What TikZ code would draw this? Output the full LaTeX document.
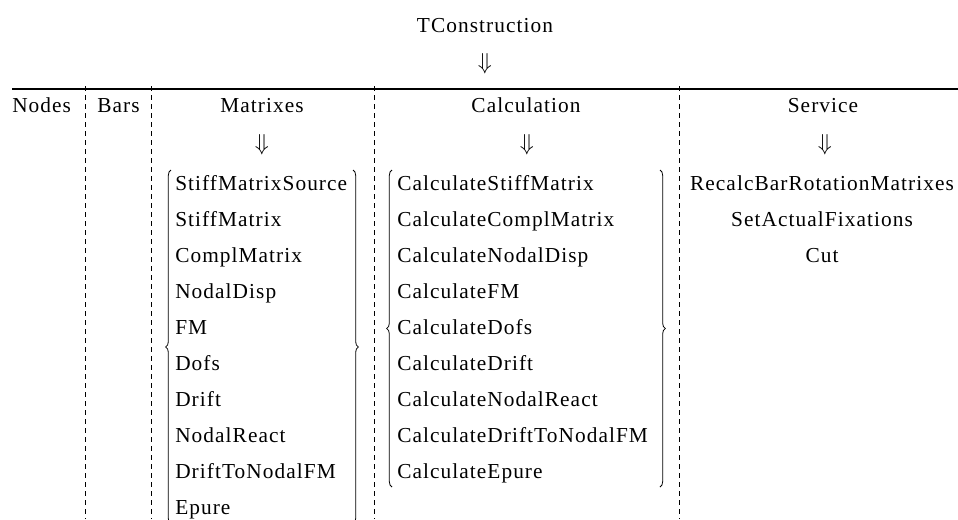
\documentclass[tikz,border=0pt]{standalone}
\usepackage{fontspec}
\setmainfont{Liberation Serif}[LetterSpace=5]
\usetikzlibrary{decorations.pathreplacing}
\tikzset{
  lbl/.style={inner sep=0pt, anchor=base, font=\fontsize{16}{19}\selectfont},
  itm/.style={lbl, anchor=base west},
  sep/.style={dash pattern=on 3.75pt off 3pt, line width=0.6pt},
  brc/.style={decorate, decoration={brace, amplitude=4pt}, line width=0.6pt}
}
\begin{document}
\begin{tikzpicture}[x=0.75pt,y=-0.75pt]
    \useasboundingbox (0,0) rectangle (958,519);
    \node[lbl] (tcon) at (485,32) {TConstruction};
    \node[lbl] (tarr) at (485,69) {$\Downarrow$};
    \draw[line width=1.1pt] (12,89) -- (958,89);
    \draw[sep] (85,86) -- (85,519);
    \draw[sep] (151,86) -- (151,519);
    \draw[sep] (374,86) -- (374,519);
    \draw[sep] (679,86) -- (679,519);
    \node[itm] (nodes) at (12,112) {Nodes};
    \node[itm] (bars) at (97,112) {Bars};
    \node[lbl] (matr) at (262,112) {Matrixes};
    \node[lbl] (calc) at (526,112) {Calculation};
    \node[lbl] (serv) at (823,112) {Service};
    \node[lbl] (marr) at (262,150) {$\Downarrow$};
    \node[lbl] (carr) at (527,150) {$\Downarrow$};
    \node[lbl] (sarr) at (825,150) {$\Downarrow$};
    \node[itm] (m1) at (175,190) {StiffMatrixSource};
    \node[itm] (m2) at (175,226) {StiffMatrix};
    \node[itm] (m3) at (175,262) {ComplMatrix};
    \node[itm] (m4) at (175,298) {NodalDisp};
    \node[itm] (m5) at (175,334) {FM};
    \node[itm] (m6) at (175,370) {Dofs};
    \node[itm] (m7) at (175,406) {Drift};
    \node[itm] (m8) at (175,442) {NodalReact};
    \node[itm] (m9) at (175,478) {DriftToNodalFM};
    \node[itm] (m10) at (175,514) {Epure};
    \node[itm] (c1) at (397,190) {CalculateStiffMatrix};
    \node[itm] (c2) at (397,226) {CalculateComplMatrix};
    \node[itm] (c3) at (397,262) {CalculateNodalDisp};
    \node[itm] (c4) at (397,298) {CalculateFM};
    \node[itm] (c5) at (397,334) {CalculateDofs};
    \node[itm] (c6) at (397,370) {CalculateDrift};
    \node[itm] (c7) at (397,406) {CalculateNodalReact};
    \node[itm] (c8) at (397,442) {CalculateDriftToNodalFM};
    \node[itm] (c9) at (397,478) {CalculateEpure};
    \node[lbl] (s1) at (822,190) {RecalcBarRotationMatrixes};
    \node[lbl] (s2) at (822,226) {SetActualFixations};
    \node[lbl] (s3) at (822,262) {Cut};
    \draw[brc] (171,524) -- (171,170);
    \draw[brc] (353,170) -- (353,524);
    \draw[brc] (392,487) -- (392,170);
    \draw[brc] (660,170) -- (660,487);
\end{tikzpicture}
\end{document}
